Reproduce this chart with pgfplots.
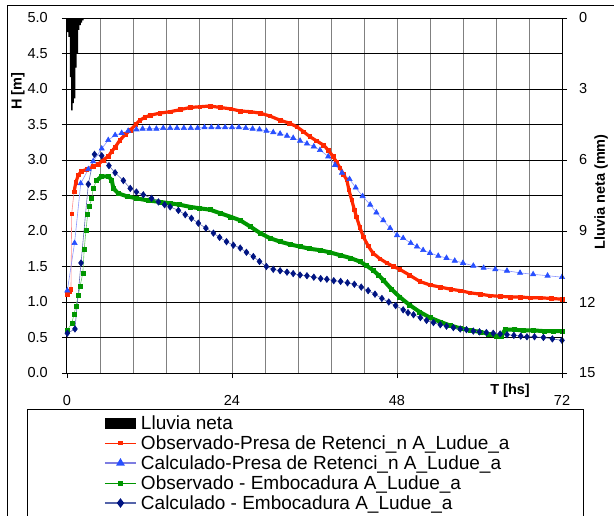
\documentclass[border=0pt]{standalone}
\usepackage{pgfplots}
\pgfplotsset{compat=1.18}
\usepackage{pgfplotstable}
\usepackage{fontspec}
\setmainfont{Liberation Sans}

\definecolor{cRed}{RGB}{255,40,0}
\definecolor{cRedL}{RGB}{255,140,140}
\definecolor{cBlue}{RGB}{40,80,255}
\definecolor{cBlueL}{RGB}{140,150,255}
\definecolor{cBlueLeg}{RGB}{125,125,225}
\definecolor{cGreen}{RGB}{0,150,0}
\definecolor{cGreenL}{RGB}{100,200,100}
\definecolor{cNavy}{RGB}{0,20,130}
\definecolor{cNavyL}{RGB}{100,110,180}
\definecolor{cNavyLeg}{RGB}{85,100,170}

% lluvia neta (mm)
\pgfplotstableread{
t r
0.1 0.6
0.3 0.8
0.5 2.5
0.7 3.9
0.9 3.6
1.1 3.4
1.3 2.1
1.5 1.5
1.7 0.5
1.9 0.3
2.1 0.2
2.3 0.1
}\lluvia

% observado - presa de retencion
\pgfplotstableread{
t h
0.05 1.11
0.4 1.15
0.58 1.18
0.68 2.24
1.02 2.55
1.3 2.69
1.65 2.79
2.1 2.84
2.9 2.87
3.8 2.91
4.55 2.94
5.25 3.00
6.0 3.05
6.5 3.12
7.0 3.18
7.7 3.28
8.5 3.36
9.2 3.42
10.0 3.50
10.6 3.56
11.3 3.60
12.1 3.63
13.5 3.66
15.0 3.68
16.5 3.71
17.9 3.74
19.3 3.75
20.8 3.76
22.3 3.74
23.8 3.72
25.2 3.69
26.7 3.68
28.1 3.66
29.5 3.62
31.0 3.56
32.3 3.52
33.4 3.47
34.4 3.40
35.3 3.33
36.3 3.27
37.3 3.21
38.0 3.14
38.7 3.05
39.2 2.97
39.7 2.89
40.2 2.80
40.7 2.72
41.0 2.58
41.4 2.44
41.8 2.30
42.1 2.20
42.6 2.05
43.1 1.92
43.8 1.79
44.5 1.69
45.5 1.61
46.5 1.55
47.5 1.50
48.4 1.46
49.8 1.38
51.3 1.29
52.8 1.24
54.3 1.21
55.8 1.18
57.2 1.16
58.6 1.13
60.1 1.11
61.5 1.09
63.0 1.08
64.5 1.07
65.9 1.07
67.4 1.06
68.8 1.06
70.4 1.05
72.0 1.04
}\obspresa

% calculado - presa de retencion
\pgfplotstableread{
t h
0.05 1.16
1.1 1.83
2.0 2.67
3.1 2.87
3.8 2.98
5.05 3.16
6.0 3.28
7.0 3.35
7.95 3.38
8.9 3.41
10.1 3.43
11.0 3.44
12.0 3.44
13.0 3.44
14.0 3.45
15.0 3.45
16.0 3.45
17.0 3.45
18.0 3.45
19.0 3.45
20.0 3.46
21.0 3.46
22.0 3.46
23.0 3.46
24.0 3.46
25.0 3.46
26.0 3.45
27.0 3.44
28.0 3.43
29.0 3.41
30.0 3.39
31.0 3.37
32.0 3.34
32.9 3.31
33.9 3.27
34.9 3.23
35.9 3.19
36.8 3.14
38.0 3.05
39.0 2.93
40.0 2.82
41.1 2.73
42.0 2.61
43.0 2.49
44.1 2.37
45.0 2.26
46.0 2.15
47.0 2.04
48.0 1.94
48.9 1.90
50.0 1.83
50.9 1.78
51.8 1.73
52.8 1.69
54.0 1.65
55.2 1.62
56.4 1.58
57.6 1.55
59.1 1.51
60.6 1.48
62.3 1.46
64.0 1.44
65.9 1.41
67.8 1.39
69.9 1.37
72.0 1.35
}\calpresa

% observado - embocadura
\pgfplotstableread{
t h
0.0 0.60
0.7 0.70
1.0 0.82
1.3 0.94
1.65 1.10
1.9 1.22
2.3 1.41
2.5 1.74
2.76 2.01
3.0 2.23
3.25 2.35
3.6 2.46
3.8 2.60
4.3 2.71
5.05 2.77
6.0 2.77
6.5 2.72
6.75 2.60
7.45 2.53
8.7 2.49
10.1 2.46
11.8 2.43
13.5 2.41
15.0 2.39
16.4 2.37
17.9 2.34
19.3 2.32
20.8 2.30
22.3 2.25
23.8 2.20
25.2 2.15
26.7 2.06
28.1 1.97
29.5 1.90
31.0 1.85
32.5 1.81
33.9 1.78
35.3 1.75
36.8 1.73
38.2 1.70
39.7 1.66
41.2 1.62
42.6 1.57
43.6 1.51
44.5 1.45
45.3 1.38
46.0 1.31
47.2 1.18
48.4 1.07
49.8 0.96
51.3 0.86
52.8 0.78
54.3 0.72
55.7 0.67
57.2 0.63
58.6 0.60
60.1 0.58
61.3 0.55
62.5 0.52
63.2 0.52
63.7 0.61
65.0 0.61
66.4 0.60
67.8 0.60
69.4 0.59
70.8 0.59
72.0 0.59
}\obsemb

% calculado - embocadura
\pgfplotstableread{
t h
0.05 0.56
1.16 0.62
2.04 1.55
3.1 2.66
4.0 3.08
5.05 3.06
6.1 2.92
7.0 2.82
8.2 2.71
9.2 2.60
10.1 2.55
11.1 2.51
12.3 2.46
13.3 2.41
14.2 2.37
15.0 2.34
16.2 2.29
17.2 2.23
18.1 2.18
19.1 2.11
20.2 2.04
21.3 1.97
22.2 1.91
23.2 1.85
24.2 1.80
25.2 1.76
26.1 1.70
27.1 1.64
28.0 1.57
29.0 1.50
30.0 1.46
31.0 1.44
32.0 1.42
32.9 1.40
33.9 1.38
34.9 1.37
35.9 1.35
36.9 1.33
37.8 1.32
38.8 1.30
39.8 1.29
40.8 1.27
41.8 1.25
42.8 1.21
43.8 1.16
44.8 1.11
45.8 1.05
46.8 1.00
47.8 0.95
48.9 0.89
49.6 0.85
50.4 0.82
51.4 0.78
52.3 0.74
53.3 0.71
54.3 0.68
55.2 0.66
56.2 0.64
57.2 0.62
58.1 0.61
59.1 0.59
60.0 0.58
61.0 0.57
62.0 0.56
63.0 0.55
64.0 0.54
65.0 0.53
66.0 0.52
66.9 0.51
68.0 0.51
69.3 0.50
70.6 0.48
72.0 0.46
}\calemb

\begin{document}
\begin{tikzpicture}
\useasboundingbox (0,0) rectangle (614pt,515pt);
% marco del grafico y de la leyenda
\draw[line width=0.8pt] (7pt,-5pt) -- (7pt,510pt) -- (620pt,510pt);
\draw[line width=0.8pt] (27pt,-5pt) -- (27pt,106pt) -- (583pt,106pt) -- (583pt,-5pt);

\begin{axis}[
  at={(67pt,142pt)}, anchor=south west,
  scale only axis, width=495pt, height=355pt,
  xmin=0, xmax=72, ymin=0, ymax=5,
  xtick={0,24,48,72},
  minor xtick={4.8,9.6,14.4,19.2,28.8,33.6,38.4,43.2,52.8,57.6,62.4,67.2},
  ytick={0,0.5,1,1.5,2,2.5,3,3.5,4,4.5,5},
  xtick pos=bottom, ytick pos=left,
  tick align=outside, major tick length=5pt, minor tick length=0pt,
  tick style={black, line width=0.8pt},
  xmajorgrids, xminorgrids, ymajorgrids,
  major x grid style={gray, line width=1pt},
  minor x grid style={gray, line width=1pt},
  major y grid style={black, line width=0.8pt},
  axis line style={line width=1pt},
  /pgf/number format/assume math mode=true,
  yticklabel style={/pgf/number format/fixed, /pgf/number format/fixed zerofill,
    /pgf/number format/precision=1, anchor=east, inner sep=0pt, xshift=-14pt},
  xticklabel style={anchor=north, inner sep=0pt, yshift=-17pt},
  tick label style={font=\fontsize{14.5}{16}\selectfont},
  label style={font=\bfseries\fontsize{14.5}{16}\selectfont},
  xlabel={T [hs]},
  xlabel style={at={(axis description cs:0.895,-0.0507)}, anchor=center},
  ylabel={H [m]},
  ylabel style={at={(axis description cs:-0.099,0.794)}, anchor=center},
]
\addplot[cRedL, line width=0.6pt, mark=square*, mark size=1.8pt,
  mark options={fill=cRed, draw=cRed}] table[x=t, y=h] {\obspresa};
\addplot[cRed, line width=3.2pt, restrict x to domain=0.9:72] table[x=t, y=h] {\obspresa};
\addplot[cBlueL, line width=0.6pt, mark=triangle*, mark size=3pt,
  mark options={fill=cBlue, draw=cBlue}] table[x=t, y=h] {\calpresa};
\addplot[cGreenL, line width=0.6pt, mark=square*, mark size=2pt,
  mark options={fill=cGreen, draw=cGreen}] table[x=t, y=h] {\obsemb};
\addplot[cGreen, line width=4pt, restrict x to domain=3.9:72] table[x=t, y=h] {\obsemb};
\addplot[cNavyL, line width=0.6pt, mark=diamond*, mark size=3.2pt,
  mark options={fill=cNavy, draw=cNavy}] table[x=t, y=h] {\calemb};
\end{axis}

\begin{axis}[
  at={(67pt,142pt)}, anchor=south west,
  scale only axis, width=495pt, height=355pt,
  xmin=0, xmax=72, ymin=0, ymax=15, y dir=reverse,
  axis x line=none, axis y line*=right,
  ytick={0,3,6,9,12,15},
  tick align=outside, major tick length=5pt,
  tick style={black, line width=0.8pt},
  axis line style={line width=1pt},
  /pgf/number format/assume math mode=true,
  yticklabel style={anchor=west, inner sep=0pt, xshift=12pt},
  tick label style={font=\fontsize{14.5}{16}\selectfont},
  label style={font=\bfseries\fontsize{14.5}{16}\selectfont},
  ylabel={Lluvia neta (mm)},
  ylabel style={at={(axis description cs:1.0788,0.51)}, anchor=center},
  legend image code/.code={\draw[mark repeat=2, mark phase=2, #1]
    plot coordinates {(0pt,0pt) (15.5pt,0pt) (31pt,0pt)};},
  legend style={at={(0.0747,-0.1127)}, anchor=north west, draw=none, fill=none,
    inner sep=0pt, outer sep=0pt, row sep=0pt, column sep=4pt,
    font=\fontsize{19}{20}\selectfont,
    nodes={inner sep=0pt, text height=16.5pt, text depth=3.5pt},
    cells={anchor=west}},
]
\addplot[ybar, bar width=0.2, fill=black, draw=none,
  legend image code/.code={\fill[black] (0pt,-5.5pt) rectangle (31pt,5.5pt);}]
  table[x=t, y=r] {\lluvia};
\addlegendentry{Lluvia neta}
\addlegendimage{cRed, line width=0.8pt, mark=square*, mark size=1.8pt, mark options={fill=cRed, draw=cRed}}
\addlegendentry{Observado-Presa de Retenci\_n A\_Ludue\_a}
\addlegendimage{cBlueLeg, line width=2pt, mark=triangle*, mark size=3pt, mark options={fill=cBlue, draw=cBlue}}
\addlegendentry{Calculado-Presa de Retenci\_n A\_Ludue\_a}
\addlegendimage{cGreen, line width=0.8pt, mark=square*, mark size=2pt, mark options={fill=cGreen, draw=cGreen}}
\addlegendentry{Observado - Embocadura A\_Ludue\_a}
\addlegendimage{cNavyLeg, line width=2pt, mark=diamond*, mark size=3.2pt, mark options={fill=cNavy, draw=cNavy}}
\addlegendentry{Calculado - Embocadura A\_Ludue\_a}
\end{axis}
\end{tikzpicture}
\end{document}
